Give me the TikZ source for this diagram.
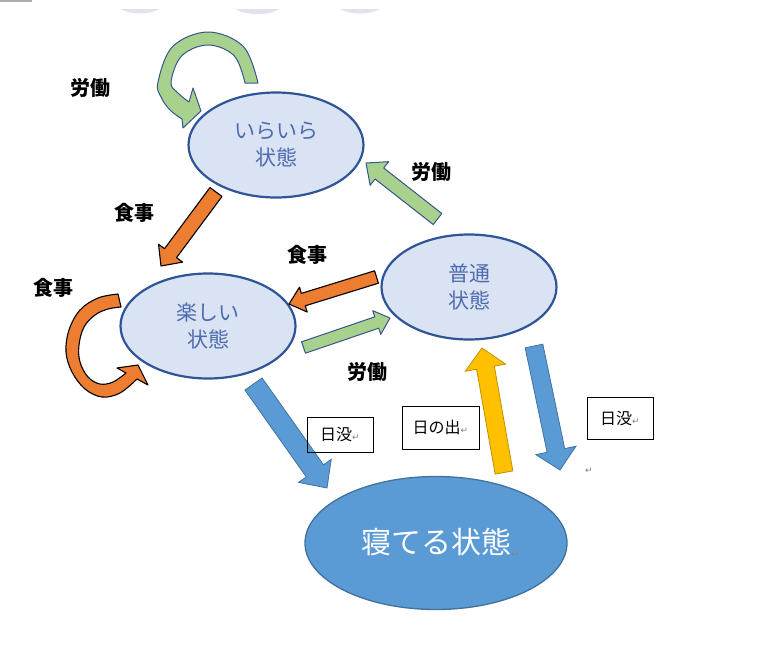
\documentclass[tikz,border=0pt]{standalone}
\usepackage{fontspec}
\setmainfont{Noto Sans CJK JP}
\newfontfamily\symf{DejaVu Sans}
\usetikzlibrary{shapes.geometric,calc}
\definecolor{efill}{HTML}{DAE3F3}
\definecolor{ebord}{HTML}{2F5597}
\definecolor{etext}{HTML}{4D6BAE}
\definecolor{agreen}{HTML}{A9D18E}
\definecolor{agreenb}{HTML}{34558F}
\definecolor{aorange}{HTML}{ED7D31}
\definecolor{ablue}{HTML}{5B9BD5}
\definecolor{abluebd}{HTML}{41719C}
\definecolor{ayellow}{HTML}{FFC000}
\definecolor{ayellowb}{HTML}{BF9000}
\definecolor{retgray}{HTML}{808080}
\definecolor{lav}{HTML}{E6DFF0}
\newcommand\blockarr[6]{%
  \coordinate (ba-b) at ($(#3)!#6!(#2)$);
  \path[#1] ($(#2)!#4!90:(#3)$) -- ($(ba-b)!#4!90:(#3)$) -- ($(ba-b)!#5!90:(#3)$) -- (#3)
    -- ($(ba-b)!#5!-90:(#3)$) -- ($(ba-b)!#4!-90:(#3)$) -- ($(#2)!#4!-90:(#3)$) -- cycle;}
\newcommand\retmark{{\symf\fontsize{9}{9}\selectfont\color{retgray}↵}}
\begin{document}
\begin{tikzpicture}[x=1pt,y=-1pt,
  state/.style={ellipse, draw=ebord, line width=2.2pt, fill=efill, minimum width=175pt,
    minimum height=105pt, inner sep=0pt, text=etext, align=center,
    font=\fontsize{21}{27}\selectfont},
  sleepstate/.style={ellipse, draw=abluebd, line width=1.3pt, fill=ablue, minimum width=262pt,
    minimum height=133pt, inner sep=0pt, text=white, font=\fontsize{30}{30}\selectfont},
  lbl/.style={font=\bfseries\fontsize{20}{20}\selectfont, inner sep=0pt},
  tbox/.style={draw=black, line width=0.8pt, inner sep=0pt, font=\fontsize{16}{16}\selectfont},
  greenarr/.style={fill=agreen, draw=agreenb, line width=1pt, line join=round},
  orangearr/.style={fill=aorange, draw=black, line width=1.1pt, line join=round},
  bluearr/.style={fill=ablue, draw=abluebd, line width=0.8pt},
  yellowarr/.style={fill=ayellow, draw=ayellowb, line width=0.8pt}]
\useasboundingbox (0,0) rectangle (758,662);
% faint fragments at the top
\fill[gray!65] (0,0) rectangle (32,1.5);
\fill[lav] (120,9) .. controls (132,15) and (148,15) .. (160,9) -- cycle;
\fill[lav] (235,9) .. controls (248,16) and (267,16) .. (280,9) -- cycle;
\fill[lav] (340,9) .. controls (352,15) and (368,15) .. (380,9) -- cycle;

% states
\node[state] (irai) at (276,145) {いらいら\\状態};
\node[state] (tano) at (208,326) {楽しい\\状態};
\node[state] (futs) at (469,287) {普通\\状態};
\node[sleepstate] (nete) at (436,543) {寝てる状態\rlap{\raisebox{-4pt}{\retmark}}};

% loops
\path[greenarr] plot[smooth, tension=0.6] coordinates {(258,83) (243.4,46.6) (208,32) (172.6,46.6) (158,82) (161,97) (170,110) (182,119)}
  -- (183,128) -- (201,111) -- (193,88) -- (189,102)
  -- plot[smooth, tension=0.6] coordinates {(189,102) (178,93) (171,82) (181.8,55.8) (208,45) (234.2,55.8) (245,83)} -- cycle;
\path[orangearr] plot[smooth, tension=0.6] coordinates {(118,294) (98,298) (80,310) (69,330) (66,352) (72,372) (85,389) (102,397) (120,393) (137,379)}
  -- (148,385) -- (138,365) -- (117,368) -- (126,373)
  -- plot[smooth, tension=0.6] coordinates {(126,373) (113,382) (100,384) (88,377) (80,362) (79,345) (84,327) (95,315) (108,309) (121,307)} -- cycle;

% straight block arrows
\coordinate (a1t) at (216,192);   \coordinate (a1h) at (161,266);
\coordinate (a2t) at (437.5,219); \coordinate (a2h) at (366,163);
\coordinate (a3t) at (376.5,277); \coordinate (a3h) at (289,304);
\coordinate (a4t) at (303.5,347.5); \coordinate (a4h) at (390,318);
\coordinate (a5t) at (253.5,384); \coordinate (a5h) at (327,488);
\coordinate (a6t) at (504,472.5); \coordinate (a6h) at (482,348);
\coordinate (a7t) at (534,346);   \coordinate (a7h) at (560,470);
\blockarr{orangearr}{a1t}{a1h}{7.5pt}{15pt}{16pt}
\blockarr{greenarr}{a2t}{a2h}{7pt}{15pt}{17pt}
\blockarr{orangearr}{a3t}{a3h}{6.5pt}{13pt}{15pt}
\blockarr{greenarr}{a4t}{a4h}{6pt}{12.5pt}{14pt}
\blockarr{bluearr}{a5t}{a5h}{10.5pt}{20pt}{21pt}
\blockarr{yellowarr}{a6t}{a6h}{9pt}{20.5pt}{20pt}
\blockarr{bluearr}{a7t}{a7h}{9pt}{20.5pt}{20pt}

% labels
\node[lbl] (l1) at (90,88) {労働};
\node[lbl] (l2) at (134,213) {食事};
\node[lbl] (l3) at (431.5,172) {労働};
\node[lbl] (l4) at (307.5,255) {食事};
\node[lbl] (l5) at (54,288) {食事};
\node[lbl] (l6) at (367.5,372) {労働};

% text boxes
\node[tbox, minimum width=66pt, minimum height=35pt] (b1) at (340,434.5) {\raisebox{-3pt}{日没\retmark}};
\node[tbox, minimum width=77pt, minimum height=43pt] (b2) at (440.5,427.5) {\raisebox{-1.5pt}{日の出\retmark}};
\node[tbox, minimum width=66pt, minimum height=42pt] (b3) at (620,418) {\raisebox{-1pt}{日没\retmark}};
\node[inner sep=0pt] (r1) at (589,471) {\retmark};
\end{tikzpicture}
\end{document}
